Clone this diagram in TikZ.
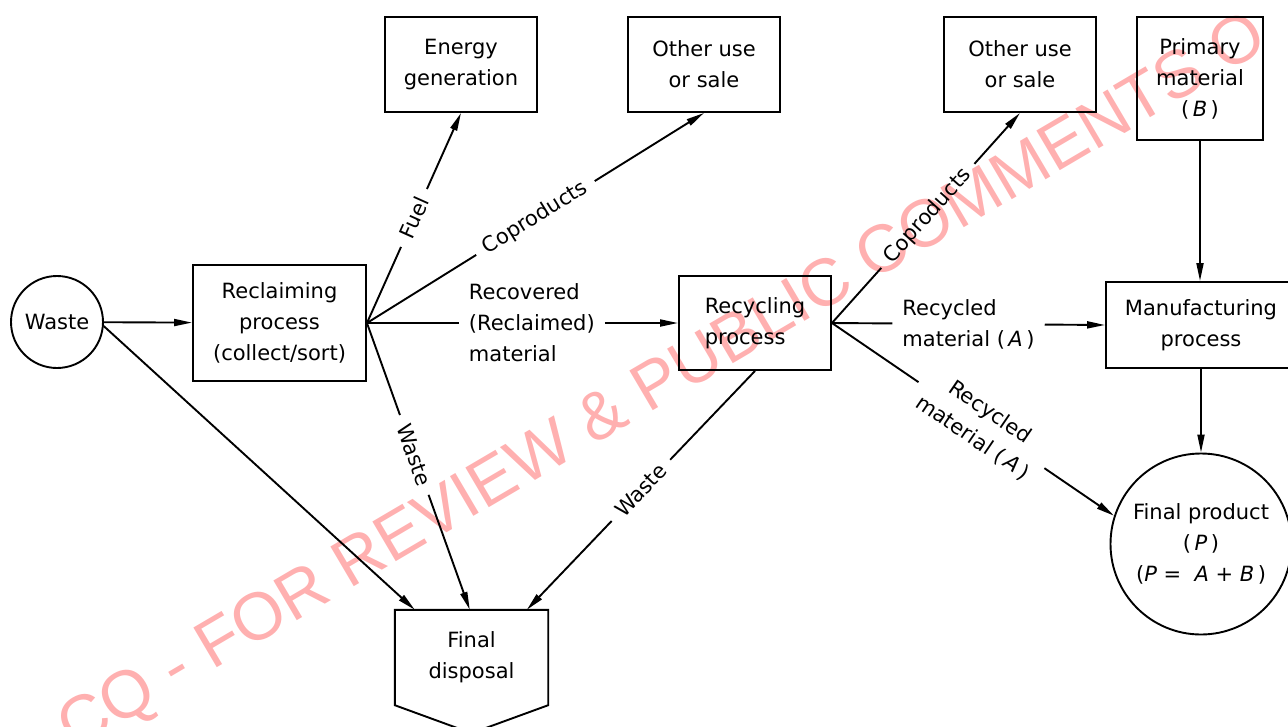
\documentclass[tikz,border=0pt]{standalone}
\usepackage{fontspec}
\setmainfont{DejaVu Sans}
\newfontfamily\wmfont{Liberation Sans}
\usetikzlibrary{arrows.meta,calc}
\definecolor{wmpink}{RGB}{255,176,176}
\newcommand{\diagfont}{\fontsize{21}{31}\selectfont}
\tikzset{
  box/.style={draw, line width=1.9pt, align=center, font=\diagfont, inner sep=0pt},
  rnd/.style={draw, circle, line width=1.9pt, align=center, font=\diagfont, inner sep=0pt},
  lab/.style={inner xsep=10pt, inner ysep=2pt, font=\diagfont},
  ln/.style={line width=1.9pt},
  arr/.style={line width=1.9pt, -{Triangle[length=18pt,width=7pt]}},
}
\begin{document}
\begin{tikzpicture}[x=1pt,y=-1pt]
\useasboundingbox (0,0) rectangle (1288,726);
\clip (0,0) rectangle (1288,726);
% watermark
\node[text=wmpink, rotate=30.5, anchor=base west, inner sep=0pt,
      font=\wmfont\fontsize{67}{67}\selectfont] (wm) at (74,752)
      {CQ - FOR REVIEW \& PUBLIC COMMENTS O};
% nodes
\node[rnd, minimum size=92pt] (waste) at (57,322) {Waste};
\node[box, minimum width=173pt, minimum height=116pt] (recl) at (279.5,323) {Reclaiming\\process\\(collect/sort)};
\node[box, minimum width=152pt, minimum height=95pt] (energy) at (461,64.5) {Energy\\generation};
\node[box, minimum width=152pt, minimum height=95pt] (other1) at (704,64.5) {Other use\\or sale};
\node[box, minimum width=152pt, minimum height=94pt, align=left] (recy) at (755,323) {Recycling\\process};
\node[box, minimum width=152pt, minimum height=95pt] (other2) at (1020,64.5) {Other use\\or sale};
\node[box, minimum width=126pt, minimum height=123pt] (prim) at (1200,78.5) {Primary\\material\\(\,\textit{B}\,)};
\node[box, minimum width=190pt, minimum height=86pt] (manu) at (1201,325) {Manufacturing\\process};
\node[rnd, minimum size=181pt] (fp) at (1201,544) {Final product\\(\,\textit{P}\,)\\(\textit{P} = \ \textit{A} + \textit{B}\,)};
\node[inner sep=0pt, minimum width=153pt, minimum height=95pt, align=center, font=\diagfont] (fd) at (471.5,657.5) {Final\\disposal};
\draw[ln] (fd.north west) -- (fd.north east) -- (fd.south east) -- ($(fd.south)+(0,28)$) -- (fd.south west) -- cycle;
\coordinate (fdA) at ($(fd.north west)+(20,0)$);
\coordinate (fdB) at ($(fd.north west)+(75,0)$);
\coordinate (fdC) at ($(fd.north west)+(132,0)$);
% connectors
\draw[arr] (waste) -- (recl);
\draw[arr] (waste.-5) -- (fdA);
% from reclaiming
\path (recl.east) -- node[lab, sloped, pos=0.5] (lfuel) {Fuel} (energy.south);
\draw[ln] (recl.east) -- (lfuel);
\draw[arr] (lfuel) -- (energy.south);
\path (recl.east) -- node[lab, sloped, pos=0.5] (lcop1) {Coproducts} (other1.south);
\draw[ln] (recl.east) -- (lcop1);
\draw[arr] (lcop1) -- (other1.south);
\path (recl.east) -- node[lab, align=left, pos=0.53] (lrec) {Recovered\\(Reclaimed)\\material} (recy.west);
\draw[ln] (recl.east) -- (lrec);
\draw[arr] (lrec) -- (recy.west);
\path (recl.east) -- node[lab, sloped, pos=0.46] (lw1) {Waste} (fdB);
\draw[ln] (recl.east) -- (lw1);
\draw[arr] (lw1) -- (fdB);
% from recycling
\path (recy.south) -- node[lab, sloped, pos=0.5] (lw2) {Waste} (fdC);
\draw[ln] (recy.south) -- (lw2);
\draw[arr] (lw2) -- (fdC);
\path (recy.east) -- node[lab, sloped, pos=0.51] (lcop2) {Coproducts} (other2.south);
\draw[ln] (recy.east) -- (lcop2);
\draw[arr] (lcop2) -- (other2.south);
\path (recy.east) -- node[lab, align=left, pos=0.5] (lra) {Recycled\\material (\,\textit{A}\,)} (manu.west);
\draw[ln] (recy.east) -- (lra);
\draw[arr] (lra) -- (manu.west);
\path (recy.east) -- node[lab, sloped, align=center, pos=0.53] (lrb) {Recycled\\material (\,\textit{A}\,)} (fp.162);
\draw[ln] (recy.east) -- (lrb);
\draw[arr] (lrb) -- (fp.162);
% vertical chain
\draw[arr] (prim.south) -- (prim.south |- manu.north);
\draw[arr] (manu.south) -- (fp.north);
\end{tikzpicture}
\end{document}
